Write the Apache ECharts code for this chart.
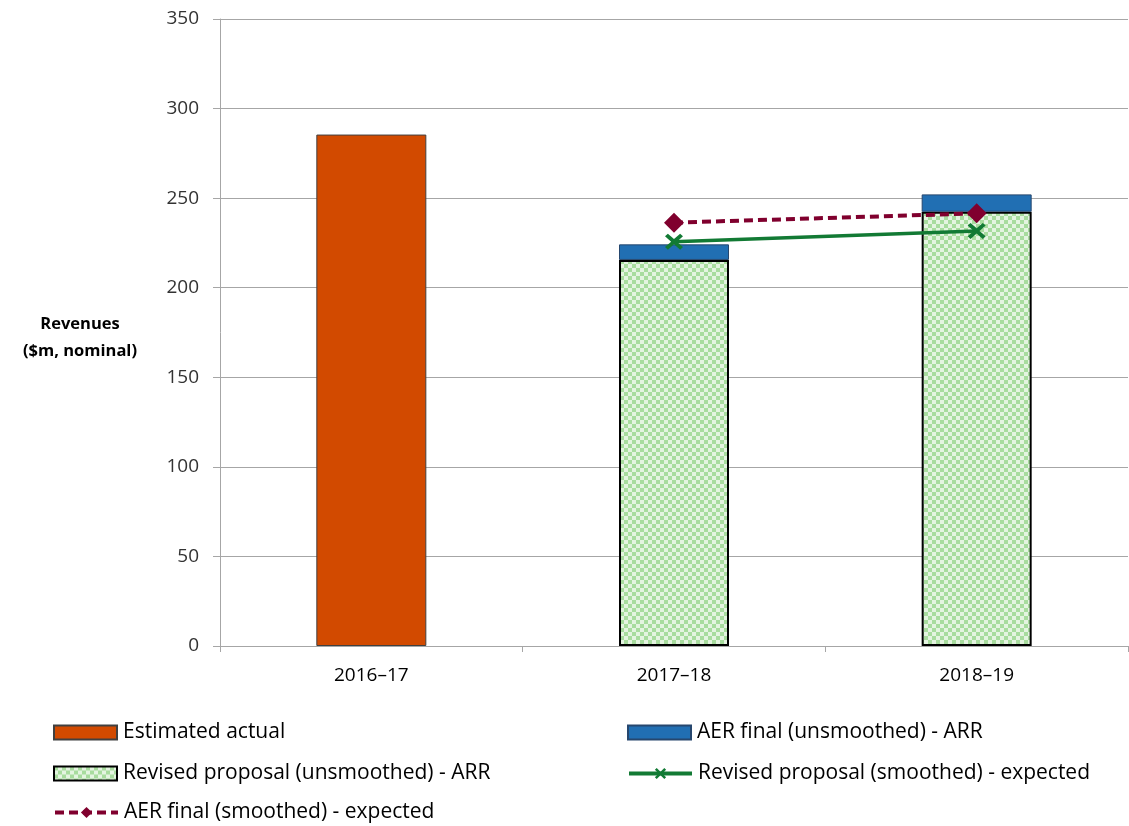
<!DOCTYPE html>
<html>
<head>
<meta charset="utf-8">
<script src="https://cdn.jsdelivr.net/npm/echarts@6/dist/echarts.min.js"></script>
<style>
  html, body { margin: 0; padding: 0; background: #fff; }
  #chart { width: 1129px; height: 826px; }
</style>
</head>
<body>
<div id="chart"></div>
<script>
// Revenue years
const years = ['2016–17', '2017–18', '2018–19'];

// Bars ($m, nominal); AER final bar is stacked on top of the revised proposal
const estimatedActual = [285.5, null, null];
const revisedUnsmoothed = [null, 215.5, 242.4];
const aerFinalIncrement = [null, 8.7, 9.7];

// Smoothed expected revenue lines
const revisedSmoothed = [null, 225.7, 231.7];
const aerFinalSmoothed = [null, 236.3, 241.5];

// Y axis scale
const yMin = 0, yMax = 350, yStep = 50;

const names = {
  est: 'Estimated actual',
  aer: 'AER final (unsmoothed) - ARR',
  rev: 'Revised proposal (unsmoothed) - ARR',
  revS: 'Revised proposal (smoothed) - expected',
  aerS: 'AER final (smoothed) - expected'
};

// small green checkerboard fill
function checkerPattern() {
  const s = 4;
  const c = document.createElement('canvas');
  c.width = s * 2; c.height = s * 2;
  const g = c.getContext('2d');
  g.fillStyle = '#e4f4e0';
  g.fillRect(0, 0, s * 2, s * 2);
  g.fillStyle = '#a8dc9e';
  g.fillRect(0, 0, s, s);
  g.fillRect(s, s, s, s);
  return c;
}

const green = '#127a34';
const maroon = '#80002e';
const labelFont = '"Open Sans", sans-serif';
const legendFont = '"Open Sans", sans-serif';

const xMarker = 'path://M0,1.6 L1.6,0 L5,3.4 L8.4,0 L10,1.6 L6.6,5 L10,8.4 L8.4,10 L5,6.6 L1.6,10 L0,8.4 L3.4,5 Z';

function legendAt(name, left, top, lineWidth) {
  const l = {
    data: [name], left: left, top: top, padding: 0,
    itemWidth: 63, itemHeight: 14, itemGap: 6,
    icon: lineWidth ? undefined : 'rect',
    textStyle: { fontFamily: legendFont, fontSize: 21, color: '#000', padding: [0, 0, 0, 1] },
    selectedMode: false
  };
  if (lineWidth) l.lineStyle = { width: lineWidth };
  return l;
}

const chart = echarts.init(document.getElementById('chart'), null, { renderer: 'canvas' });
chart.setOption({
  animation: false,
  grid: { left: 220, right: 1, top: 19, bottom: 180, containLabel: false },
  xAxis: {
    type: 'category',
    data: years,
    axisLine: { lineStyle: { color: '#a6a6a6', width: 1 } },
    axisTick: { show: true, length: 6, lineStyle: { color: '#a6a6a6' } },
    axisLabel: { color: '#000', fontFamily: labelFont, fontSize: 19, margin: 20 }
  },
  yAxis: {
    type: 'value',
    min: yMin, max: yMax, interval: yStep,
    axisLine: { show: true, lineStyle: { color: '#a6a6a6' } },
    axisTick: { show: true, length: 7, lineStyle: { color: '#a6a6a6' } },
    splitLine: { lineStyle: { color: '#a6a6a6', width: 1 } },
    axisLabel: { color: '#333', fontFamily: labelFont, fontSize: 19, margin: 21 }
  },
  graphic: [{
    type: 'text', x: 80, y: 338,
    style: {
      text: 'Revenues\n($m, nominal)',
      align: 'center', verticalAlign: 'middle',
      font: 'bold 16.5px "Open Sans", sans-serif',
      fill: '#000', lineHeight: 27
    }
  }],
  legend: [
    legendAt(names.est, 53, 722),
    legendAt(names.aer, 627, 722),
    legendAt(names.rev, 53, 763),
    legendAt(names.revS, 627, 763, 4),
    legendAt(names.aerS, 53, 802, 4)
  ],
  series: [
    {
      name: names.est, type: 'bar', stack: 'rev', barWidth: 110,
      data: estimatedActual,
      itemStyle: { color: '#d24a00', borderColor: '#404040', borderWidth: 1 }
    },
    {
      name: names.rev, type: 'bar', stack: 'rev', barWidth: 110,
      data: revisedUnsmoothed,
      itemStyle: { color: { image: checkerPattern(), repeat: 'repeat' }, borderColor: '#000', borderWidth: 2 }
    },
    {
      name: names.aer, type: 'bar', stack: 'rev', barWidth: 110,
      data: aerFinalIncrement,
      itemStyle: { color: '#216fb3', borderColor: '#26476e', borderWidth: 1 }
    },
    {
      name: names.revS, type: 'line', data: revisedSmoothed,
      symbol: xMarker, symbolSize: [18, 16], showSymbol: true,
      lineStyle: { color: green, width: 3.5 },
      itemStyle: { color: green, borderWidth: 0 },
      z: 5
    },
    {
      name: names.aerS, type: 'line', data: aerFinalSmoothed,
      symbol: 'diamond', symbolSize: [20, 20], showSymbol: true,
      lineStyle: { color: maroon, width: 4, type: [9, 5] },
      itemStyle: { color: maroon, borderWidth: 0 },
      z: 6
    }
  ]
});
</script>
</body>
</html>
